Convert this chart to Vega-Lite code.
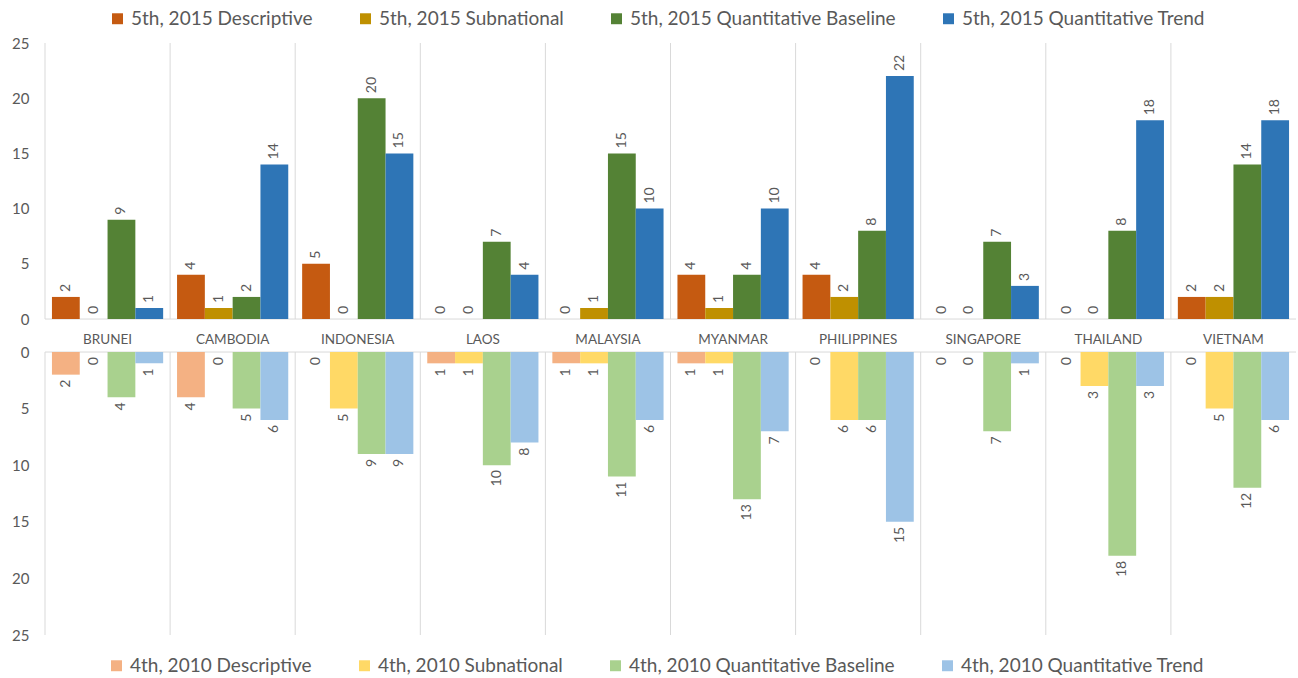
{
  "$schema": "https://vega.github.io/schema/vega-lite/v6.json",
  "autosize": {"type": "fit", "contains": "padding"},
  "width": 1298,
  "height": 678,
  "padding": {"left": 11, "top": 36, "right": 1, "bottom": 35},
  "background": "white",
  "config": {
    "font": "Lato",
    "view": {"stroke": null},
    "axis": {"labelFont": "Lato", "labelColor": "#595959", "domain": false, "ticks": false, "grid": false, "title": null, "labelFlush": false},
    "legend": {"labelFont": "Lato", "labelColor": "#595959", "labelFontSize": 19, "labelLimit": 0, "symbolType": "square", "symbolSize": 120, "symbolStrokeWidth": 0, "columnPadding": 43, "labelOffset": 4, "title": null}
  },
  "datasets": {
    "countries": [
      {"country": "BRUNEI"}, {"country": "CAMBODIA"}, {"country": "INDONESIA"}, {"country": "LAOS"}, {"country": "MALAYSIA"},
      {"country": "MYANMAR"}, {"country": "PHILIPPINES"}, {"country": "SINGAPORE"}, {"country": "THAILAND"}, {"country": "VIETNAM"}
    ],
    "top": [
      {"country": "BRUNEI", "type": "Descriptive", "series": "5th, 2015 Descriptive", "value": 2},
      {"country": "BRUNEI", "type": "Subnational", "series": "5th, 2015 Subnational", "value": 0},
      {"country": "BRUNEI", "type": "Quantitative Baseline", "series": "5th, 2015 Quantitative Baseline", "value": 9},
      {"country": "BRUNEI", "type": "Quantitative Trend", "series": "5th, 2015 Quantitative Trend", "value": 1},
      {"country": "CAMBODIA", "type": "Descriptive", "series": "5th, 2015 Descriptive", "value": 4},
      {"country": "CAMBODIA", "type": "Subnational", "series": "5th, 2015 Subnational", "value": 1},
      {"country": "CAMBODIA", "type": "Quantitative Baseline", "series": "5th, 2015 Quantitative Baseline", "value": 2},
      {"country": "CAMBODIA", "type": "Quantitative Trend", "series": "5th, 2015 Quantitative Trend", "value": 14},
      {"country": "INDONESIA", "type": "Descriptive", "series": "5th, 2015 Descriptive", "value": 5},
      {"country": "INDONESIA", "type": "Subnational", "series": "5th, 2015 Subnational", "value": 0},
      {"country": "INDONESIA", "type": "Quantitative Baseline", "series": "5th, 2015 Quantitative Baseline", "value": 20},
      {"country": "INDONESIA", "type": "Quantitative Trend", "series": "5th, 2015 Quantitative Trend", "value": 15},
      {"country": "LAOS", "type": "Descriptive", "series": "5th, 2015 Descriptive", "value": 0},
      {"country": "LAOS", "type": "Subnational", "series": "5th, 2015 Subnational", "value": 0},
      {"country": "LAOS", "type": "Quantitative Baseline", "series": "5th, 2015 Quantitative Baseline", "value": 7},
      {"country": "LAOS", "type": "Quantitative Trend", "series": "5th, 2015 Quantitative Trend", "value": 4},
      {"country": "MALAYSIA", "type": "Descriptive", "series": "5th, 2015 Descriptive", "value": 0},
      {"country": "MALAYSIA", "type": "Subnational", "series": "5th, 2015 Subnational", "value": 1},
      {"country": "MALAYSIA", "type": "Quantitative Baseline", "series": "5th, 2015 Quantitative Baseline", "value": 15},
      {"country": "MALAYSIA", "type": "Quantitative Trend", "series": "5th, 2015 Quantitative Trend", "value": 10},
      {"country": "MYANMAR", "type": "Descriptive", "series": "5th, 2015 Descriptive", "value": 4},
      {"country": "MYANMAR", "type": "Subnational", "series": "5th, 2015 Subnational", "value": 1},
      {"country": "MYANMAR", "type": "Quantitative Baseline", "series": "5th, 2015 Quantitative Baseline", "value": 4},
      {"country": "MYANMAR", "type": "Quantitative Trend", "series": "5th, 2015 Quantitative Trend", "value": 10},
      {"country": "PHILIPPINES", "type": "Descriptive", "series": "5th, 2015 Descriptive", "value": 4},
      {"country": "PHILIPPINES", "type": "Subnational", "series": "5th, 2015 Subnational", "value": 2},
      {"country": "PHILIPPINES", "type": "Quantitative Baseline", "series": "5th, 2015 Quantitative Baseline", "value": 8},
      {"country": "PHILIPPINES", "type": "Quantitative Trend", "series": "5th, 2015 Quantitative Trend", "value": 22},
      {"country": "SINGAPORE", "type": "Descriptive", "series": "5th, 2015 Descriptive", "value": 0},
      {"country": "SINGAPORE", "type": "Subnational", "series": "5th, 2015 Subnational", "value": 0},
      {"country": "SINGAPORE", "type": "Quantitative Baseline", "series": "5th, 2015 Quantitative Baseline", "value": 7},
      {"country": "SINGAPORE", "type": "Quantitative Trend", "series": "5th, 2015 Quantitative Trend", "value": 3},
      {"country": "THAILAND", "type": "Descriptive", "series": "5th, 2015 Descriptive", "value": 0},
      {"country": "THAILAND", "type": "Subnational", "series": "5th, 2015 Subnational", "value": 0},
      {"country": "THAILAND", "type": "Quantitative Baseline", "series": "5th, 2015 Quantitative Baseline", "value": 8},
      {"country": "THAILAND", "type": "Quantitative Trend", "series": "5th, 2015 Quantitative Trend", "value": 18},
      {"country": "VIETNAM", "type": "Descriptive", "series": "5th, 2015 Descriptive", "value": 2},
      {"country": "VIETNAM", "type": "Subnational", "series": "5th, 2015 Subnational", "value": 2},
      {"country": "VIETNAM", "type": "Quantitative Baseline", "series": "5th, 2015 Quantitative Baseline", "value": 14},
      {"country": "VIETNAM", "type": "Quantitative Trend", "series": "5th, 2015 Quantitative Trend", "value": 18}
    ],
    "bottom": [
      {"country": "BRUNEI", "type": "Descriptive", "series": "4th, 2010 Descriptive", "value": 2},
      {"country": "BRUNEI", "type": "Subnational", "series": "4th, 2010 Subnational", "value": 0},
      {"country": "BRUNEI", "type": "Quantitative Baseline", "series": "4th, 2010 Quantitative Baseline", "value": 4},
      {"country": "BRUNEI", "type": "Quantitative Trend", "series": "4th, 2010 Quantitative Trend", "value": 1},
      {"country": "CAMBODIA", "type": "Descriptive", "series": "4th, 2010 Descriptive", "value": 4},
      {"country": "CAMBODIA", "type": "Subnational", "series": "4th, 2010 Subnational", "value": 0},
      {"country": "CAMBODIA", "type": "Quantitative Baseline", "series": "4th, 2010 Quantitative Baseline", "value": 5},
      {"country": "CAMBODIA", "type": "Quantitative Trend", "series": "4th, 2010 Quantitative Trend", "value": 6},
      {"country": "INDONESIA", "type": "Descriptive", "series": "4th, 2010 Descriptive", "value": 0},
      {"country": "INDONESIA", "type": "Subnational", "series": "4th, 2010 Subnational", "value": 5},
      {"country": "INDONESIA", "type": "Quantitative Baseline", "series": "4th, 2010 Quantitative Baseline", "value": 9},
      {"country": "INDONESIA", "type": "Quantitative Trend", "series": "4th, 2010 Quantitative Trend", "value": 9},
      {"country": "LAOS", "type": "Descriptive", "series": "4th, 2010 Descriptive", "value": 1},
      {"country": "LAOS", "type": "Subnational", "series": "4th, 2010 Subnational", "value": 1},
      {"country": "LAOS", "type": "Quantitative Baseline", "series": "4th, 2010 Quantitative Baseline", "value": 10},
      {"country": "LAOS", "type": "Quantitative Trend", "series": "4th, 2010 Quantitative Trend", "value": 8},
      {"country": "MALAYSIA", "type": "Descriptive", "series": "4th, 2010 Descriptive", "value": 1},
      {"country": "MALAYSIA", "type": "Subnational", "series": "4th, 2010 Subnational", "value": 1},
      {"country": "MALAYSIA", "type": "Quantitative Baseline", "series": "4th, 2010 Quantitative Baseline", "value": 11},
      {"country": "MALAYSIA", "type": "Quantitative Trend", "series": "4th, 2010 Quantitative Trend", "value": 6},
      {"country": "MYANMAR", "type": "Descriptive", "series": "4th, 2010 Descriptive", "value": 1},
      {"country": "MYANMAR", "type": "Subnational", "series": "4th, 2010 Subnational", "value": 1},
      {"country": "MYANMAR", "type": "Quantitative Baseline", "series": "4th, 2010 Quantitative Baseline", "value": 13},
      {"country": "MYANMAR", "type": "Quantitative Trend", "series": "4th, 2010 Quantitative Trend", "value": 7},
      {"country": "PHILIPPINES", "type": "Descriptive", "series": "4th, 2010 Descriptive", "value": 0},
      {"country": "PHILIPPINES", "type": "Subnational", "series": "4th, 2010 Subnational", "value": 6},
      {"country": "PHILIPPINES", "type": "Quantitative Baseline", "series": "4th, 2010 Quantitative Baseline", "value": 6},
      {"country": "PHILIPPINES", "type": "Quantitative Trend", "series": "4th, 2010 Quantitative Trend", "value": 15},
      {"country": "SINGAPORE", "type": "Descriptive", "series": "4th, 2010 Descriptive", "value": 0},
      {"country": "SINGAPORE", "type": "Subnational", "series": "4th, 2010 Subnational", "value": 0},
      {"country": "SINGAPORE", "type": "Quantitative Baseline", "series": "4th, 2010 Quantitative Baseline", "value": 7},
      {"country": "SINGAPORE", "type": "Quantitative Trend", "series": "4th, 2010 Quantitative Trend", "value": 1},
      {"country": "THAILAND", "type": "Descriptive", "series": "4th, 2010 Descriptive", "value": 0},
      {"country": "THAILAND", "type": "Subnational", "series": "4th, 2010 Subnational", "value": 3},
      {"country": "THAILAND", "type": "Quantitative Baseline", "series": "4th, 2010 Quantitative Baseline", "value": 18},
      {"country": "THAILAND", "type": "Quantitative Trend", "series": "4th, 2010 Quantitative Trend", "value": 3},
      {"country": "VIETNAM", "type": "Descriptive", "series": "4th, 2010 Descriptive", "value": 0},
      {"country": "VIETNAM", "type": "Subnational", "series": "4th, 2010 Subnational", "value": 5},
      {"country": "VIETNAM", "type": "Quantitative Baseline", "series": "4th, 2010 Quantitative Baseline", "value": 12},
      {"country": "VIETNAM", "type": "Quantitative Trend", "series": "4th, 2010 Quantitative Trend", "value": 6}
    ]
  },
  "resolve": {"scale": {"y": "independent", "color": "independent"}, "axis": {"y": "independent"}},
  "layer": [
    {
      "layer": [
        {
          "data": {"name": "countries"},
          "mark": {"type": "rule", "color": "#D9D9D9", "strokeWidth": 1},
          "encoding": {
            "x": {"field": "country", "type": "nominal", "bandPosition": 0, "sort": ["BRUNEI", "CAMBODIA", "INDONESIA", "LAOS", "MALAYSIA", "MYANMAR", "PHILIPPINES", "SINGAPORE", "THAILAND", "VIETNAM"]},
            "y": {"datum": 0, "type": "quantitative"},
            "y2": {"datum": 25}
          }
        },
        {
          "data": {"values": [{"v": 0}]},
          "mark": {"type": "rule", "color": "#D9D9D9", "strokeWidth": 1},
          "encoding": {"y": {"field": "v", "type": "quantitative"}}
        },
        {
          "data": {"name": "top"},
          "mark": {"type": "bar"},
          "encoding": {
            "x": {"field": "country", "type": "nominal", "sort": ["BRUNEI", "CAMBODIA", "INDONESIA", "LAOS", "MALAYSIA", "MYANMAR", "PHILIPPINES", "SINGAPORE", "THAILAND", "VIETNAM"],
              "scale": {"paddingInner": 0, "paddingOuter": 0}, "axis": null},
            "xOffset": {"field": "type", "type": "nominal", "sort": ["Descriptive", "Subnational", "Quantitative Baseline", "Quantitative Trend"], "scale": {"paddingInner": 0, "paddingOuter": 0.25}},
            "y": {"field": "value", "type": "quantitative", "scale": {"domain": [-28.62, 25], "nice": false, "zero": false},
              "axis": {"orient": "left", "values": [0, 5, 10, 15, 20, 25], "labelFontSize": 15, "labelPadding": 16}},
            "color": {"field": "series", "type": "nominal",
              "sort": ["5th, 2015 Descriptive", "5th, 2015 Subnational", "5th, 2015 Quantitative Baseline", "5th, 2015 Quantitative Trend"],
              "scale": {"domain": ["5th, 2015 Descriptive", "5th, 2015 Subnational", "5th, 2015 Quantitative Baseline", "5th, 2015 Quantitative Trend"], "range": ["#C55A11", "#BF9000", "#548235", "#2E75B6"]},
              "legend": {"orient": "none", "direction": "horizontal", "legendX": 63, "legendY": -34}}
          }
        },
        {
          "data": {"name": "top"},
          "mark": {"type": "text", "angle": 270, "align": "left", "baseline": "middle", "dx": 5, "fontSize": 14, "color": "#595959"},
          "encoding": {
            "x": {"field": "country", "type": "nominal", "sort": ["BRUNEI", "CAMBODIA", "INDONESIA", "LAOS", "MALAYSIA", "MYANMAR", "PHILIPPINES", "SINGAPORE", "THAILAND", "VIETNAM"]},
            "xOffset": {"field": "type", "type": "nominal", "sort": ["Descriptive", "Subnational", "Quantitative Baseline", "Quantitative Trend"]},
            "y": {"field": "value", "type": "quantitative"},
            "text": {"field": "value", "type": "quantitative"}
          }
        },
        {
          "data": {"name": "countries"},
          "mark": {"type": "text", "baseline": "middle", "align": "center", "dy": 21, "fontSize": 13.5, "color": "#595959"},
          "encoding": {
            "x": {"field": "country", "type": "nominal", "sort": ["BRUNEI", "CAMBODIA", "INDONESIA", "LAOS", "MALAYSIA", "MYANMAR", "PHILIPPINES", "SINGAPORE", "THAILAND", "VIETNAM"]},
            "y": {"datum": 0, "type": "quantitative"},
            "text": {"field": "country", "type": "nominal"}
          }
        }
      ]
    },
    {
      "layer": [
        {
          "data": {"name": "countries"},
          "mark": {"type": "rule", "color": "#D9D9D9", "strokeWidth": 1},
          "encoding": {
            "x": {"field": "country", "type": "nominal", "bandPosition": 0, "sort": ["BRUNEI", "CAMBODIA", "INDONESIA", "LAOS", "MALAYSIA", "MYANMAR", "PHILIPPINES", "SINGAPORE", "THAILAND", "VIETNAM"]},
            "y": {"datum": 0, "type": "quantitative"},
            "y2": {"datum": 25}
          }
        },
        {
          "data": {"values": [{"v": 0}]},
          "mark": {"type": "rule", "color": "#D9D9D9", "strokeWidth": 1},
          "encoding": {"y": {"field": "v", "type": "quantitative"}}
        },
        {
          "data": {"name": "bottom"},
          "mark": {"type": "bar"},
          "encoding": {
            "x": {"field": "country", "type": "nominal", "sort": ["BRUNEI", "CAMBODIA", "INDONESIA", "LAOS", "MALAYSIA", "MYANMAR", "PHILIPPINES", "SINGAPORE", "THAILAND", "VIETNAM"],
              "scale": {"paddingInner": 0, "paddingOuter": 0}, "axis": null},
            "xOffset": {"field": "type", "type": "nominal", "sort": ["Descriptive", "Subnational", "Quantitative Baseline", "Quantitative Trend"], "scale": {"paddingInner": 0, "paddingOuter": 0.25}},
            "y": {"field": "value", "type": "quantitative", "scale": {"domain": [-27.3, 25], "reverse": true, "nice": false, "zero": false},
              "axis": {"orient": "left", "values": [0, 5, 10, 15, 20, 25], "labelFontSize": 15, "labelPadding": 16}},
            "color": {"field": "series", "type": "nominal",
              "sort": ["4th, 2010 Descriptive", "4th, 2010 Subnational", "4th, 2010 Quantitative Baseline", "4th, 2010 Quantitative Trend"],
              "scale": {"domain": ["4th, 2010 Descriptive", "4th, 2010 Subnational", "4th, 2010 Quantitative Baseline", "4th, 2010 Quantitative Trend"], "range": ["#F4B183", "#FFD966", "#A9D18E", "#9DC3E6"]},
              "legend": {"orient": "none", "direction": "horizontal", "legendX": 62, "legendY": 613}}
          }
        },
        {
          "data": {"name": "bottom"},
          "mark": {"type": "text", "angle": 270, "align": "right", "baseline": "middle", "dx": -5, "fontSize": 14, "color": "#595959"},
          "encoding": {
            "x": {"field": "country", "type": "nominal", "sort": ["BRUNEI", "CAMBODIA", "INDONESIA", "LAOS", "MALAYSIA", "MYANMAR", "PHILIPPINES", "SINGAPORE", "THAILAND", "VIETNAM"]},
            "xOffset": {"field": "type", "type": "nominal", "sort": ["Descriptive", "Subnational", "Quantitative Baseline", "Quantitative Trend"]},
            "y": {"field": "value", "type": "quantitative"},
            "text": {"field": "value", "type": "quantitative"}
          }
        }
      ]
    }
  ]
}
